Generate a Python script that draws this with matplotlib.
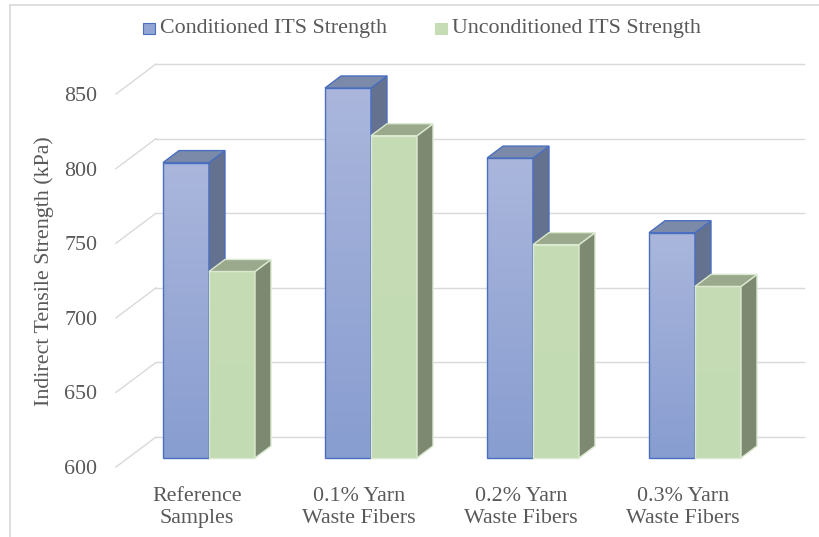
import numpy as np
import matplotlib
matplotlib.use("Agg")
import matplotlib.pyplot as plt
from matplotlib.patches import Polygon, Rectangle
from matplotlib.lines import Line2D

categories = ["Reference\nSamples", "0.1% Yarn\nWaste Fibers",
              "0.2% Yarn\nWaste Fibers", "0.3% Yarn\nWaste Fibers"]
series_names = ["Conditioned ITS Strength", "Unconditioned ITS Strength"]
conditioned = [798, 848, 801, 751]
unconditioned = [725, 816, 743, 715]
y_ticks = [600, 650, 700, 750, 800, 850]

TEXT = "#595959"
GRID = "#d9d9d9"
FONT = "Liberation Serif"
FS = 15.8

# pixel geometry of the oblique view
W, H = 819, 537
PX_CAT = 162.0          # px per category on the front plane
PX_VAL = 1.492          # px per kPa
X0_PX, Y0_PX = 116, 467  # front-plane origin (first category edge, 600 kPa)
WALL_DX = 40 / PX_CAT    # depth of the back wall in data units
WALL_DY = 30 / PX_VAL
Y_MIN = 600

fig = plt.figure(figsize=(W / 100, H / 100), dpi=100)
x_right_px = 806
y_top_px = 60
ax = fig.add_axes([X0_PX / W, 1 - Y0_PX / H,
                   (x_right_px - X0_PX) / W, (Y0_PX - y_top_px) / H])
xlim = (0, (x_right_px - X0_PX) / PX_CAT)
ylim = (Y_MIN, Y_MIN + (Y0_PX - y_top_px) / PX_VAL)
for s in ax.spines.values():
    s.set_visible(False)
ax.set_facecolor("none")


def off(t):
    return t * WALL_DX, t * WALL_DY


# back wall gridlines + side wall diagonals
ncat = len(categories)
bx, by = off(1.0)
for v in y_ticks:
    ax.plot([bx, ncat + bx], [v + by, v + by], color=GRID, lw=1.0, zorder=1, clip_on=False)
    ax.plot([0, bx], [v, v + by], color=GRID, lw=1.0, zorder=1, clip_on=False)

ax.set_yticks(y_ticks)
ax.set_yticklabels([str(v) for v in y_ticks], fontfamily=FONT, fontsize=FS, color=TEXT)
ax.tick_params(axis="y", length=0, pad=13.5)
ax.set_xticks(np.arange(ncat) + 0.5)
ax.set_xticklabels(categories, fontfamily=FONT, fontsize=FS, color=TEXT, linespacing=1.22)
ax.tick_params(axis="x", length=0, pad=14.5)

styles = [
    dict(top_grad="#aab6dc", bot_grad="#889dd0", side="#64718f", cap="#7c8aa9", edge="#4a6fc0"),
    dict(top_grad="#c5dcb4", bot_grad="#c3dbb2", side="#7d8a71", cap="#9aa98c", edge="#dbe9d0"),
]

bar_w = 46 / PX_CAT
t0, t1 = 0.3, 0.7
dx0, dy0 = off(t0)
dx1, dy1 = off(t1)
ddx, ddy = dx1 - dx0, dy1 - dy0

for i in range(ncat):
    for s, values in enumerate([conditioned, unconditioned]):
        v = values[i]
        st = styles[s]
        z = 3 + i * 2 + s
        xl = i + 0.5 - bar_w + s * bar_w + dx0
        xr = xl + bar_w
        yb = Y_MIN + dy0
        yt = v + dy0
        # front face with a vertical gradient
        grad = np.linspace(0, 1, 64)[:, None, None]
        c_top = np.array(matplotlib.colors.to_rgb(st["top_grad"]))
        c_bot = np.array(matplotlib.colors.to_rgb(st["bot_grad"]))
        img = c_top * (1 - grad) + c_bot * grad
        ax.imshow(img, extent=[xl, xr, yb, yt], origin="upper", aspect="auto",
                  zorder=z, clip_on=False, interpolation="bilinear")
        ax.add_patch(Rectangle((xl, yb), bar_w, yt - yb, fill=False, ec=st["edge"],
                               lw=1.0, zorder=z, clip_on=False))
        side = Polygon([(xr, yb), (xr + ddx, yb + ddy), (xr + ddx, yt + ddy), (xr, yt)],
                       closed=True, fc=st["side"], ec=st["edge"], lw=1.0,
                       zorder=z, clip_on=False)
        cap = Polygon([(xl, yt), (xr, yt), (xr + ddx, yt + ddy), (xl + ddx, yt + ddy)],
                      closed=True, fc=st["cap"], ec=st["edge"], lw=1.0,
                      zorder=z, clip_on=False)
        ax.add_patch(side)
        ax.add_patch(cap)

# imshow resets the limits
ax.set_xlim(*xlim)
ax.set_ylim(*ylim)

# y axis title
fig.text(44 / W, 1 - 271 / H, "Indirect Tensile Strength (kPa)", rotation=90,
         ha="center", va="center", fontfamily=FONT, fontsize=FS, color=TEXT)

# legend
leg_items = [(143, series_names[0], "#93a5d4", styles[0]["edge"]),
             (435, series_names[1], styles[1]["top_grad"], styles[1]["top_grad"])]
for x_px, name, fc, ec in leg_items:
    fig.add_artist(Rectangle((x_px / W, 1 - 34 / H), 12 / W, 11 / H, fc=fc, ec=ec,
                             lw=0.8, transform=fig.transFigure))
    fig.text((x_px + 17) / W, 1 - 28.5 / H, name, ha="left", va="center",
             fontfamily=FONT, fontsize=FS, color=TEXT)

# chart area border
fig.add_artist(Line2D([10 / W, 10 / W], [0, 1 - 5 / H], color=GRID, lw=1.2,
                      transform=fig.transFigure))
fig.add_artist(Line2D([10 / W, 1], [1 - 5 / H, 1 - 5 / H], color=GRID, lw=1.2,
                      transform=fig.transFigure))

fig.savefig("out.png", dpi=100)
